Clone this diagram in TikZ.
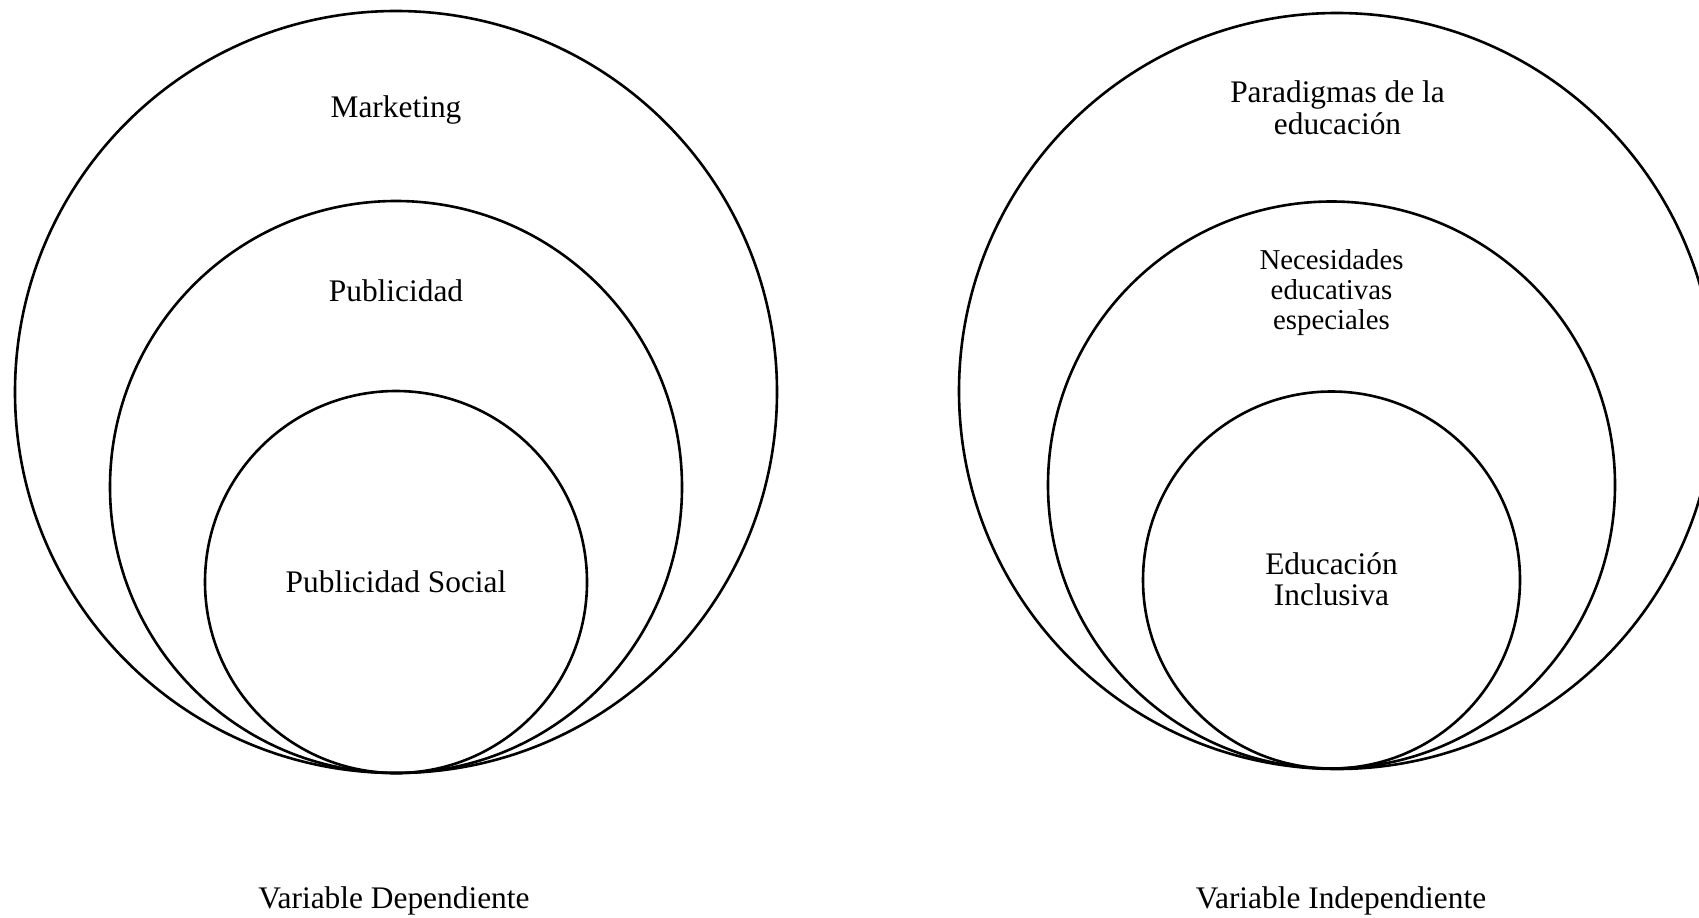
\documentclass[tikz,border=0pt]{standalone}
\usepackage{fontspec}
\setmainfont{Liberation Serif}
\begin{document}
\begin{tikzpicture}[x=1bp,y=-1bp,
  ring/.style={circle,draw=black,line width=2.6bp,inner sep=0pt,minimum size=#1},
  lbl/.style={inner sep=0pt,align=center,font=\fontsize{31.4bp}{31.5bp}\selectfont},
  smalllbl/.style={inner sep=0pt,align=center,font=\fontsize{28.8bp}{30bp}\selectfont}]
\useasboundingbox (0,0) rectangle (1699,917);
% left group
\node[ring=762bp] (L1) at (396,392) {};
\node[ring=572bp] (L2) at (396,487) {};
\node[ring=382bp] (L3) at (396,582) {};
\node[lbl] (tL1) at (396,109.5) {Marketing};
\node[lbl] (tL2) at (396,291) {Publicidad};
\node[lbl] (tL3) at (396,582) {Publicidad Social};
\node[lbl] (capL) at (394,901) {Variable Dependiente};
% right group
\node[ring=756bp] (R1) at (1337,391) {};
\node[ring=567bp] (R2) at (1331.5,485) {};
\node[ring=377bp] (R3) at (1331.5,580) {};
\node[lbl] (tR1) at (1337.5,108) {Paradigmas de la\\educación};
\node[smalllbl] (tR2) at (1331.5,293) {Necesidades\\educativas\\especiales};
\node[lbl] (tR3) at (1331.5,579) {Educación\\Inclusiva};
\node[lbl] (capR) at (1341,901) {Variable Independiente};
\end{tikzpicture}
\end{document}
